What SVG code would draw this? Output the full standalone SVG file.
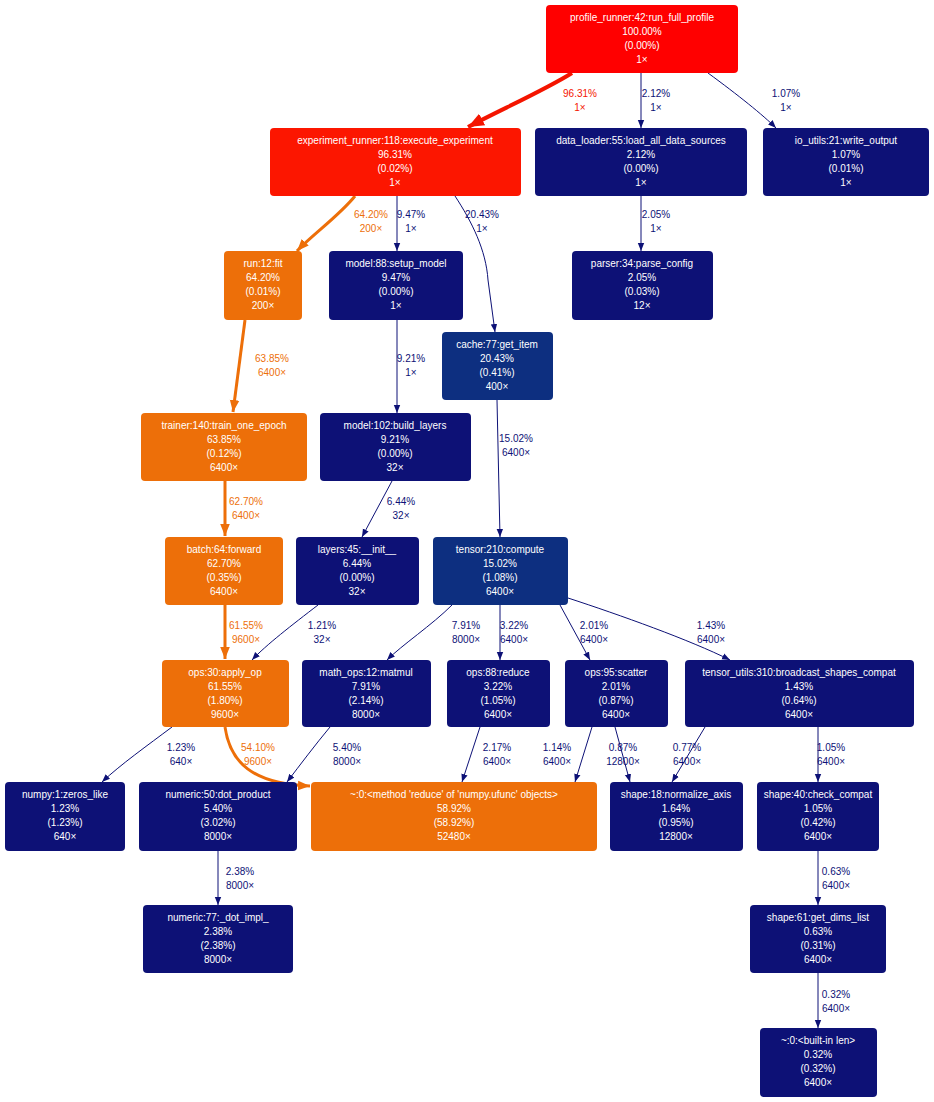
<svg xmlns="http://www.w3.org/2000/svg" width="934" height="1102" viewBox="0 0 934 1102">
<style>
.n text{font-family:"Liberation Sans",Arial,sans-serif;font-size:10px;fill:#fff;text-anchor:middle}
.red rect{fill:#ff0000}
.red2 rect{fill:#fc1600}
.org rect{fill:#ed6f09}
.nav rect{fill:#0d1176}
.mid rect{fill:#0d2f80}
.e path{fill:none}
.en{stroke:#0d1176;stroke-width:1}
.eo{stroke:#ed6f09;stroke-width:3}
.er{stroke:#f41500;stroke-width:4}
.lab{font-family:"Liberation Sans",Arial,sans-serif;font-size:10px;text-anchor:middle}
.ln{fill:#0d1176}
.lo{fill:#ed6f09}
.lr{fill:#f41500}
</style>
<defs>
<marker id="an" viewBox="0 0 10 10" refX="10" refY="5" markerWidth="8" markerHeight="8" orient="auto" markerUnits="userSpaceOnUse"><path d="M0,1 L10,5 L0,9 z" fill="#0d1176"/></marker>
<marker id="ao" viewBox="0 0 10 10" refX="10" refY="5" markerWidth="4" markerHeight="4" orient="auto"><path d="M0,1 L10,5 L0,9 z" fill="#ed6f09"/></marker>
<marker id="ar" viewBox="0 0 10 10" refX="10" refY="5" markerWidth="4" markerHeight="4" orient="auto"><path d="M0,1 L10,5 L0,9 z" fill="#f41500"/></marker>
</defs>
<rect width="934" height="1102" fill="#fff"/>
<g id="connectors" class="e">
<path class="er" d="M572,73 C545,90 500,110 468,127" marker-end="url(#ar)"/>
<path class="en" d="M641,73 L641,128" marker-end="url(#an)"/>
<path class="en" d="M708,73 C738,95 763,115 776,128" marker-end="url(#an)"/>
<path class="eo" d="M355,196 C340,215 312,235 297,251" marker-end="url(#ao)"/>
<path class="en" d="M397,196 L397,251" marker-end="url(#an)"/>
<path class="en" d="M455,196 C472,222 486,250 488,280 L495,332" marker-end="url(#an)"/>
<path class="en" d="M641,196 L641,251" marker-end="url(#an)"/>
<path class="eo" d="M245,320 L233,412" marker-end="url(#ao)"/>
<path class="en" d="M397,320 L397,413" marker-end="url(#an)"/>
<path class="en" d="M497,400 L500,537" marker-end="url(#an)"/>
<path class="eo" d="M225,481 L225,536" marker-end="url(#ao)"/>
<path class="en" d="M392,481 L362,537" marker-end="url(#an)"/>
<path class="eo" d="M225,605 L225,659" marker-end="url(#ao)"/>
<path class="en" d="M318,605 C292,625 266,645 252,660" marker-end="url(#an)"/>
<path class="en" d="M452,605 C432,625 402,645 387,660" marker-end="url(#an)"/>
<path class="en" d="M500,605 L500,660" marker-end="url(#an)"/>
<path class="en" d="M560,605 L590,660" marker-end="url(#an)"/>
<path class="en" d="M568,598 C620,615 690,640 730,660" marker-end="url(#an)"/>
<path class="en" d="M172,727 C148,745 120,765 102,782" marker-end="url(#an)"/>
<path class="eo" d="M225,727 C230,762 252,784 310,786" marker-end="url(#ao)"/>
<path class="en" d="M330,727 C315,745 300,765 287,782" marker-end="url(#an)"/>
<path class="en" d="M480,727 L462,782" marker-end="url(#an)"/>
<path class="en" d="M592,727 L575,782" marker-end="url(#an)"/>
<path class="en" d="M615,727 L630,782" marker-end="url(#an)"/>
<path class="en" d="M705,727 L672,782" marker-end="url(#an)"/>
<path class="en" d="M818,727 L818,782" marker-end="url(#an)"/>
<path class="en" d="M218,851 L218,905" marker-end="url(#an)"/>
<path class="en" d="M818,851 L818,905" marker-end="url(#an)"/>
<path class="en" d="M818,973 L818,1028" marker-end="url(#an)"/>
</g>
<g id="edge-labels" class="lab">
<text class="lr" x="580" y="97">96.31%</text><text class="lr" x="580" y="111">1×</text>
<text class="ln" x="656" y="97">2.12%</text><text class="ln" x="656" y="111">1×</text>
<text class="ln" x="786" y="97">1.07%</text><text class="ln" x="786" y="111">1×</text>
<text class="lo" x="371" y="218">64.20%</text><text class="lo" x="371" y="232">200×</text>
<text class="ln" x="411" y="218">9.47%</text><text class="ln" x="411" y="232">1×</text>
<text class="ln" x="482" y="218">20.43%</text><text class="ln" x="482" y="232">1×</text>
<text class="ln" x="656" y="218">2.05%</text><text class="ln" x="656" y="232">1×</text>
<text class="lo" x="272" y="362">63.85%</text><text class="lo" x="272" y="376">6400×</text>
<text class="ln" x="411" y="362">9.21%</text><text class="ln" x="411" y="376">1×</text>
<text class="ln" x="516" y="442">15.02%</text><text class="ln" x="516" y="456">6400×</text>
<text class="lo" x="246" y="505">62.70%</text><text class="lo" x="246" y="519">6400×</text>
<text class="ln" x="401" y="505">6.44%</text><text class="ln" x="401" y="519">32×</text>
<text class="lo" x="246" y="629">61.55%</text><text class="lo" x="246" y="643">9600×</text>
<text class="ln" x="322" y="629">1.21%</text><text class="ln" x="322" y="643">32×</text>
<text class="ln" x="466" y="629">7.91%</text><text class="ln" x="466" y="643">8000×</text>
<text class="ln" x="514" y="629">3.22%</text><text class="ln" x="514" y="643">6400×</text>
<text class="ln" x="594" y="629">2.01%</text><text class="ln" x="594" y="643">6400×</text>
<text class="ln" x="711" y="629">1.43%</text><text class="ln" x="711" y="643">6400×</text>
<text class="ln" x="181" y="751">1.23%</text><text class="ln" x="181" y="765">640×</text>
<text class="lo" x="258" y="751">54.10%</text><text class="lo" x="258" y="765">9600×</text>
<text class="ln" x="347" y="751">5.40%</text><text class="ln" x="347" y="765">8000×</text>
<text class="ln" x="497" y="751">2.17%</text><text class="ln" x="497" y="765">6400×</text>
<text class="ln" x="557" y="751">1.14%</text><text class="ln" x="557" y="765">6400×</text>
<text class="ln" x="623" y="751">0.87%</text><text class="ln" x="623" y="765">12800×</text>
<text class="ln" x="687" y="751">0.77%</text><text class="ln" x="687" y="765">6400×</text>
<text class="ln" x="831" y="751">1.05%</text><text class="ln" x="831" y="765">6400×</text>
<text class="ln" x="240" y="875">2.38%</text><text class="ln" x="240" y="889">8000×</text>
<text class="ln" x="836" y="875">0.63%</text><text class="ln" x="836" y="889">6400×</text>
<text class="ln" x="836" y="998">0.32%</text><text class="ln" x="836" y="1012">6400×</text>
</g>
<g id="n1" class="n red"><rect x="546" y="5" width="192" height="68" rx="4"/><text x="642" y="21">profile_runner:42:run_full_profile</text><text x="642" y="35">100.00%</text><text x="642" y="49">(0.00%)</text><text x="642" y="63">1×</text></g>
<g id="n2" class="n red2"><rect x="270" y="128" width="251" height="68" rx="4"/><text x="395" y="144">experiment_runner:118:execute_experiment</text><text x="395" y="158">96.31%</text><text x="395" y="172">(0.02%)</text><text x="395" y="186">1×</text></g>
<g id="n3" class="n nav"><rect x="535" y="128" width="212" height="68" rx="4"/><text x="641" y="144">data_loader:55:load_all_data_sources</text><text x="641" y="158">2.12%</text><text x="641" y="172">(0.00%)</text><text x="641" y="186">1×</text></g>
<g id="n4" class="n nav"><rect x="763" y="128" width="166" height="68" rx="4"/><text x="846" y="144">io_utils:21:write_output</text><text x="846" y="158">1.07%</text><text x="846" y="172">(0.01%)</text><text x="846" y="186">1×</text></g>
<g id="n5" class="n org"><rect x="224" y="251" width="78" height="69" rx="4"/><text x="263" y="267">run:12:fit</text><text x="263" y="281">64.20%</text><text x="263" y="295">(0.01%)</text><text x="263" y="309">200×</text></g>
<g id="n6" class="n nav"><rect x="329" y="251" width="134" height="69" rx="4"/><text x="396" y="267">model:88:setup_model</text><text x="396" y="281">9.47%</text><text x="396" y="295">(0.00%)</text><text x="396" y="309">1×</text></g>
<g id="n7" class="n nav"><rect x="572" y="251" width="141" height="69" rx="4"/><text x="642" y="267">parser:34:parse_config</text><text x="642" y="281">2.05%</text><text x="642" y="295">(0.03%)</text><text x="642" y="309">12×</text></g>
<g id="n8" class="n mid"><rect x="442" y="332" width="111" height="68" rx="4"/><text x="497" y="348">cache:77:get_item</text><text x="497" y="362">20.43%</text><text x="497" y="376">(0.41%)</text><text x="497" y="390">400×</text></g>
<g id="n9" class="n org"><rect x="141" y="413" width="166" height="68" rx="4"/><text x="224" y="429">trainer:140:train_one_epoch</text><text x="224" y="443">63.85%</text><text x="224" y="457">(0.12%)</text><text x="224" y="471">6400×</text></g>
<g id="n10" class="n nav"><rect x="320" y="413" width="151" height="68" rx="4"/><text x="395" y="429">model:102:build_layers</text><text x="395" y="443">9.21%</text><text x="395" y="457">(0.00%)</text><text x="395" y="471">32×</text></g>
<g id="n11" class="n org"><rect x="165" y="537" width="118" height="68" rx="4"/><text x="224" y="553">batch:64:forward</text><text x="224" y="567">62.70%</text><text x="224" y="581">(0.35%)</text><text x="224" y="595">6400×</text></g>
<g id="n12" class="n nav"><rect x="296" y="537" width="123" height="68" rx="4"/><text x="357" y="553">layers:45:__init__</text><text x="357" y="567">6.44%</text><text x="357" y="581">(0.00%)</text><text x="357" y="595">32×</text></g>
<g id="n13" class="n mid"><rect x="433" y="537" width="135" height="68" rx="4"/><text x="500" y="553">tensor:210:compute</text><text x="500" y="567">15.02%</text><text x="500" y="581">(1.08%)</text><text x="500" y="595">6400×</text></g>
<g id="n14" class="n org"><rect x="162" y="660" width="127" height="67" rx="4"/><text x="225" y="676">ops:30:apply_op</text><text x="225" y="690">61.55%</text><text x="225" y="704">(1.80%)</text><text x="225" y="718">9600×</text></g>
<g id="n15" class="n nav"><rect x="302" y="660" width="129" height="67" rx="4"/><text x="366" y="676">math_ops:12:matmul</text><text x="366" y="690">7.91%</text><text x="366" y="704">(2.14%)</text><text x="366" y="718">8000×</text></g>
<g id="n16" class="n nav"><rect x="447" y="660" width="103" height="67" rx="4"/><text x="498" y="676">ops:88:reduce</text><text x="498" y="690">3.22%</text><text x="498" y="704">(1.05%)</text><text x="498" y="718">6400×</text></g>
<g id="n17" class="n nav"><rect x="565" y="660" width="103" height="67" rx="4"/><text x="616" y="676">ops:95:scatter</text><text x="616" y="690">2.01%</text><text x="616" y="704">(0.87%)</text><text x="616" y="718">6400×</text></g>
<g id="n18" class="n nav"><rect x="685" y="660" width="229" height="67" rx="4"/><text x="799" y="676">tensor_utils:310:broadcast_shapes_compat</text><text x="799" y="690">1.43%</text><text x="799" y="704">(0.64%)</text><text x="799" y="718">6400×</text></g>
<g id="n19" class="n nav"><rect x="5" y="782" width="120" height="69" rx="4"/><text x="65" y="798">numpy:1:zeros_like</text><text x="65" y="812">1.23%</text><text x="65" y="826">(1.23%)</text><text x="65" y="840">640×</text></g>
<g id="n20" class="n nav"><rect x="139" y="782" width="158" height="69" rx="4"/><text x="218" y="798">numeric:50:dot_product</text><text x="218" y="812">5.40%</text><text x="218" y="826">(3.02%)</text><text x="218" y="840">8000×</text></g>
<g id="n21" class="n org"><rect x="311" y="782" width="286" height="69" rx="4"/><text x="454" y="798">~:0:&lt;method 'reduce' of 'numpy.ufunc' objects&gt;</text><text x="454" y="812">58.92%</text><text x="454" y="826">(58.92%)</text><text x="454" y="840">52480×</text></g>
<g id="n22" class="n nav"><rect x="610" y="782" width="133" height="69" rx="4"/><text x="676" y="798">shape:18:normalize_axis</text><text x="676" y="812">1.64%</text><text x="676" y="826">(0.95%)</text><text x="676" y="840">12800×</text></g>
<g id="n23" class="n nav"><rect x="757" y="782" width="122" height="69" rx="4"/><text x="818" y="798">shape:40:check_compat</text><text x="818" y="812">1.05%</text><text x="818" y="826">(0.42%)</text><text x="818" y="840">6400×</text></g>
<g id="n24" class="n nav"><rect x="143" y="905" width="150" height="68" rx="4"/><text x="218" y="921">numeric:77:_dot_impl_</text><text x="218" y="935">2.38%</text><text x="218" y="949">(2.38%)</text><text x="218" y="963">8000×</text></g>
<g id="n25" class="n nav"><rect x="750" y="905" width="136" height="68" rx="4"/><text x="818" y="921">shape:61:get_dims_list</text><text x="818" y="935">0.63%</text><text x="818" y="949">(0.31%)</text><text x="818" y="963">6400×</text></g>
<g id="n26" class="n nav"><rect x="760" y="1028" width="117" height="69" rx="4"/><text x="818" y="1044">~:0:&lt;built-in len&gt;</text><text x="818" y="1058">0.32%</text><text x="818" y="1072">(0.32%)</text><text x="818" y="1086">6400×</text></g>
</svg>
